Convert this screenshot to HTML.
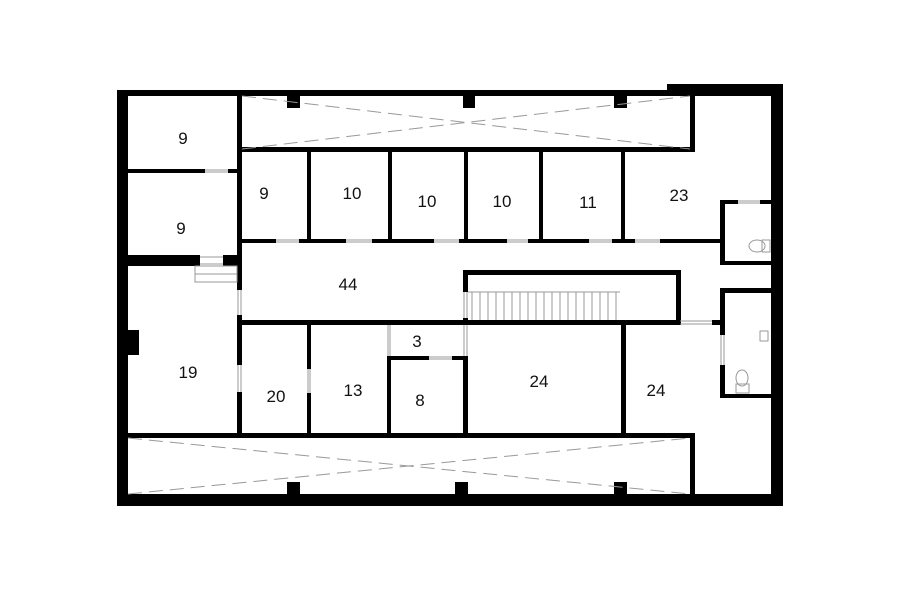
<!DOCTYPE html>
<html><head><style>body{margin:0;background:#fff}svg{display:block}text{font-family:"Liberation Sans",sans-serif;font-size:17px;fill:#111;text-anchor:middle}</style></head><body>
<svg width="900" height="604" viewBox="0 0 900 604">
<g fill="#000">
<!-- outer -->
<rect x="117" y="90" width="11" height="416"/>
<rect x="117" y="90" width="552" height="6"/>
<rect x="667" y="84" width="116" height="12"/>
<rect x="771" y="84" width="12" height="422"/>
<rect x="117" y="494" width="666" height="12"/>
<!-- top corridor -->
<rect x="690" y="84" width="5" height="68"/>
<rect x="238" y="147" width="457" height="5"/>
<rect x="237" y="96" width="5" height="339"/>
<rect x="287" y="96" width="13" height="12"/><rect x="463" y="96" width="12" height="12"/><rect x="614" y="96" width="13" height="12"/>
<!-- left rooms -->
<rect x="127" y="169" width="78" height="4"/><rect x="228" y="169" width="10" height="4"/>
<rect x="127" y="255" width="73" height="11"/><rect x="223" y="255" width="14" height="11"/>
<rect x="127" y="330" width="12" height="25"/>
<!-- top row rooms -->
<rect x="307" y="152" width="4" height="89"/><rect x="388" y="152" width="4" height="89"/><rect x="464" y="152" width="4" height="89"/><rect x="539" y="152" width="4" height="89"/><rect x="621" y="152" width="4" height="89"/>
<rect x="242" y="239" width="34" height="4"/><rect x="299" y="239" width="47" height="4"/><rect x="372" y="239" width="62" height="4"/><rect x="459" y="239" width="48" height="4"/><rect x="528" y="239" width="61" height="4"/><rect x="612" y="239" width="23" height="4"/><rect x="660" y="239" width="63" height="4"/>
<!-- bath 1 -->
<rect x="720" y="200" width="5" height="65"/><rect x="720" y="200" width="18" height="4"/><rect x="760" y="200" width="11" height="4"/><rect x="720" y="261" width="51" height="4"/>
<!-- corridor/stair -->
<rect x="242" y="320" width="438" height="5"/>
<rect x="463" y="270" width="217" height="5"/><rect x="676" y="270" width="5" height="55"/>
<rect x="463" y="270" width="5" height="22"/><rect x="463" y="318" width="5" height="7"/><rect x="463" y="356" width="5" height="79"/>
<rect x="712" y="320" width="10" height="5"/>
<!-- bath 2 -->
<rect x="720" y="288" width="51" height="5"/><rect x="720" y="288" width="5" height="47"/><rect x="720" y="365" width="5" height="33"/><rect x="720" y="394" width="51" height="4"/>
<!-- lower rooms -->
<rect x="237" y="325" width="5" height="0"/>
<rect x="307" y="325" width="4" height="44"/><rect x="307" y="393" width="4" height="42"/>
<rect x="387" y="356" width="4" height="79"/>
<rect x="621" y="322" width="5" height="113"/>
<rect x="389" y="356" width="40" height="4"/><rect x="452" y="356" width="14" height="4"/>
<!-- bottom corridor -->
<rect x="127" y="433" width="568" height="5"/><rect x="690" y="433" width="5" height="61"/>
<rect x="287" y="482" width="13" height="12"/><rect x="455" y="482" width="13" height="12"/><rect x="614" y="482" width="13" height="12"/>
</g>
<!-- door gaps on left wall 237 -->
<rect x="237" y="290" width="5" height="25" fill="#fff"/>
<rect x="237" y="365" width="5" height="27" fill="#fff"/>
<g stroke="#999" stroke-width="1" fill="none">
<path d="M205 170h23M205 172h23M200 257h23M200 264h23M238 290v25M241 290v25M238 365v27M241 365v27M308 369v24M310 369v24M388 325v31M390 325v31M464 292v26M467 292v26M464 325v31M467 325v31M429 357h23M429 359h23M680 321h32M680 324h32M721 335v30M724 335v30M738 201h22M738 203h22"/>
<path d="M276 240h23M276 242h23M346 240h26M346 242h26M434 240h25M434 242h25M507 240h21M507 242h21M589 240h23M589 242h23M635 240h25M635 242h25"/>
<rect x="195" y="266" width="42" height="16"/><path d="M195 274h42"/>
<path d="M472 292v28M480 292v28M488 292v28M496 292v28M504 292v28M512 292v28M520 292v28M528 292v28M536 292v28M544 292v28M552 292v28M560 292v28M568 292v28M576 292v28M584 292v28M592 292v28M600 292v28M608 292v28M616 292v28M468 292h152"/>
<path d="M242 96L690 149M242 149L690 96M128 438L690 494M128 494L690 438" stroke-dasharray="14 7"/>
<ellipse cx="757" cy="246" rx="8" ry="6"/><rect x="762" y="240" width="8" height="12"/>
<ellipse cx="742" cy="378" rx="6" ry="8"/><rect x="736" y="384" width="13" height="9"/>
<rect x="760" y="331" width="8" height="10"/>
</g>
<text x="183" y="144">9</text><text x="181" y="234">9</text><text x="264" y="199">9</text>
<text x="352" y="199">10</text><text x="427" y="207">10</text><text x="502" y="207">10</text><text x="588" y="208">11</text><text x="679" y="201">23</text>
<text x="348" y="290">44</text><text x="188" y="378">19</text><text x="276" y="402">20</text><text x="353" y="396">13</text><text x="417" y="347">3</text><text x="420" y="406">8</text><text x="539" y="387">24</text><text x="656" y="396">24</text>
</svg>
</body></html>
